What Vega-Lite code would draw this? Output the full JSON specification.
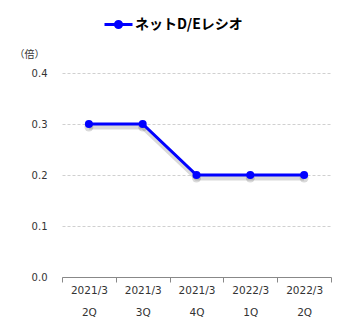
{
  "$schema": "https://vega.github.io/schema/vega-lite/v6.json",
  "autosize": "none",
  "width": 269,
  "height": 204,
  "padding": {"left": 62, "top": 73, "right": 14, "bottom": 53},
  "background": "white",
  "config": {"view": {"stroke": null}},
  "data": {
    "values": [
      {"period": "2021/3|2Q", "value": 0.3, "series": "ネットD/Eレシオ"},
      {"period": "2021/3|3Q", "value": 0.3, "series": "ネットD/Eレシオ"},
      {"period": "2021/3|4Q", "value": 0.2, "series": "ネットD/Eレシオ"},
      {"period": "2022/3|1Q", "value": 0.2, "series": "ネットD/Eレシオ"},
      {"period": "2022/3|2Q", "value": 0.2, "series": "ネットD/Eレシオ"}
    ]
  },
  "encoding": {
    "x": {
      "field": "period",
      "type": "nominal",
      "sort": null,
      "scale": {"paddingInner": 0, "paddingOuter": 0},
      "axis": {
        "title": null,
        "labelAngle": 0,
        "labelExpr": "split(datum.label, '|')",
        "labelLineHeight": 22,
        "labelFont": "DejaVu Sans",
        "labelFontSize": 10.5,
        "labelColor": "#333333",
        "labelPadding": 3,
        "domainColor": "#888888",
        "tickColor": "#888888",
        "tickBand": "extent",
        "tickSize": 5,
        "grid": false
      }
    }
  },
  "layer": [
    {
      "mark": {"type": "line", "color": "#000000", "opacity": 0.15, "strokeWidth": 5, "point": {"filled": true, "size": 80, "color": "#000000", "opacity": 0.15}},
      "encoding": {
        "y": {
          "field": "value",
          "type": "quantitative",
          "scale": {"domain": [0.006, 0.406]},
          "axis": null
        }
      }
    },
    {
      "mark": {"type": "line", "strokeWidth": 3, "point": {"filled": true, "size": 64}},
      "encoding": {
        "y": {
          "field": "value",
          "type": "quantitative",
          "scale": {"domain": [0, 0.4]},
          "axis": {
            "title": "（倍）",
            "titleAngle": 0,
            "titleX": -33,
            "titleY": -19,
            "titleAlign": "center",
            "titleBaseline": "middle",
            "titleFont": "Noto Sans CJK JP",
            "titleFontSize": 10,
            "titleFontWeight": "normal",
            "titleColor": "#333333",
            "values": [0, 0.1, 0.2, 0.3, 0.4],
            "format": ".1f",
            "labelFont": "DejaVu Sans",
            "labelFontSize": 10,
            "labelColor": "#333333",
            "labelPadding": 15,
            "domain": false,
            "ticks": false,
            "grid": true,
            "gridColor": "#d0d0d0",
            "gridDash": [3, 2]
          }
        },
        "color": {
          "field": "series",
          "type": "nominal",
          "scale": {"range": ["#0000FF"]},
          "legend": {
            "orient": "none",
            "legendX": 41,
            "legendY": -64,
            "title": null,
            "padding": 0,
            "symbolType": "M-1,0H1M-0.22,0A0.22,0.22 0 1,1 0.22,0A0.22,0.22 0 1,1 -0.22,0",
            "symbolSize": 784,
            "symbolStrokeWidth": 3,
            "symbolFillColor": "#0000FF",
            "symbolStrokeColor": "#0000FF",
            "labelFont": "Noto Sans CJK JP",
            "labelFontSize": 14,
            "labelFontWeight": "bold",
            "labelColor": "#000000",
            "labelOffset": 1
          }
        }
      }
    }
  ],
  "resolve": {"scale": {"y": "independent"}}
}
